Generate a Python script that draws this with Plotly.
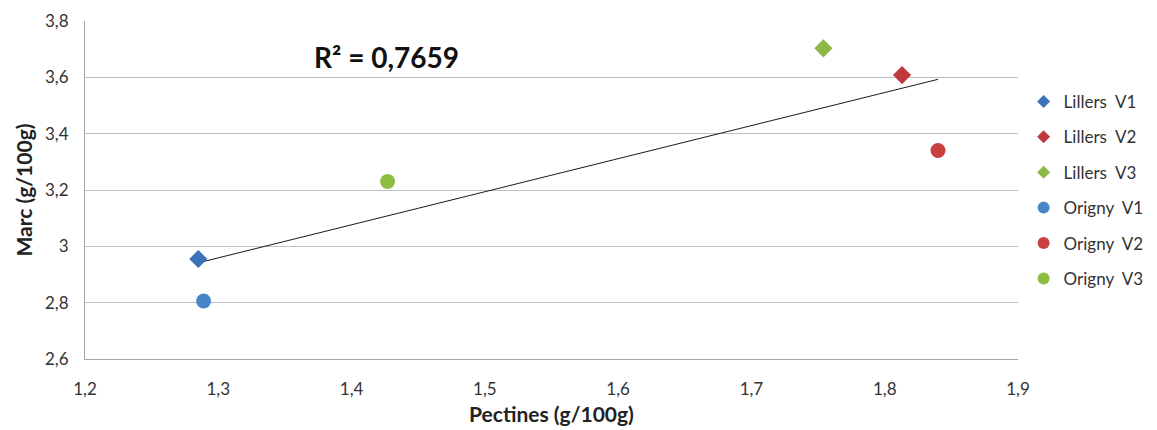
import numpy as np
import plotly.graph_objects as go

# Data
series_names = ["Lillers\u00a0\u00a0V1", "Lillers\u00a0\u00a0V2", "Lillers\u00a0\u00a0V3",
                "Origny\u00a0\u00a0V1", "Origny\u00a0\u00a0V2", "Origny\u00a0\u00a0V3"]
pectines = [1.285, 1.813, 1.754, 1.289, 1.840, 1.427]
marc = [2.955, 3.608, 3.703, 2.806, 3.340, 3.230]
symbols = ["diamond", "diamond", "diamond", "circle", "circle", "circle"]
colors = ["#3D72B8", "#C0393B", "#8DB846", "#4A84C8", "#C84040", "#8DBE3F"]
r2_label = "R² = 0,7659"

x_ticks = [1.2, 1.3, 1.4, 1.5, 1.6, 1.7, 1.8, 1.9]
y_ticks = [2.6, 2.8, 3.0, 3.2, 3.4, 3.6, 3.8]

FONT = "Lato, 'Open Sans', sans-serif"

fig = go.Figure()

# linear trendline (least squares over all points)
xa = np.array(pectines)
ya = np.array(marc)
slope, intercept = np.polyfit(xa, ya, 1)
xl = np.array([xa.min(), xa.max()])
fig.add_trace(go.Scatter(x=xl, y=slope * xl + intercept, mode="lines",
                         line=dict(color="#1a1a1a", width=1), showlegend=False,
                         hoverinfo="skip"))

for i, name in enumerate(series_names):
    is_dia = symbols[i] == "diamond"
    size = 14 if is_dia else 15
    fig.add_trace(go.Scatter(
        x=[pectines[i]], y=[marc[i]], mode="markers", name=name,
        legendgroup=f"g{i}", showlegend=False,
        marker=dict(symbol=symbols[i], color=colors[i], size=size,
                    line=dict(width=0)),
    ))
    # legend entry with the smaller legend marker
    fig.add_trace(go.Scatter(
        x=[None], y=[None], mode="markers", name=name,
        legendgroup=f"g{i}", showlegend=True,
        marker=dict(symbol=symbols[i], color=colors[i], size=10 if is_dia else 12,
                    line=dict(width=0)),
    ))

fig.add_annotation(x=1.426, y=3.672, xref="x", yref="y", text=f"<b>{r2_label}</b>",
                   showarrow=False, font=dict(size=28, color="#111111", family=FONT))

# page body adds an 8px offset, so the figure is 8px smaller and margins shifted
fig.update_layout(
    width=1149, height=422,
    margin=dict(l=77, r=139, t=13, b=71, autoexpand=False),
    paper_bgcolor="white", plot_bgcolor="white",
    separators=", ",
    font=dict(family=FONT, size=17, color="#333333"),
    legend=dict(x=1.006, y=0.814, xanchor="left", yanchor="top",
                xref="paper", yref="paper",
                font=dict(size=17, color="#333333", family=FONT),
                tracegroupgap=10.3, itemwidth=30,
                bgcolor="rgba(0,0,0,0)"),
    xaxis=dict(range=[1.2, 1.9], tickvals=x_ticks, tickformat=".1f",
               showgrid=False, zeroline=False,
               showline=True, linecolor="#A6A6A6", linewidth=1,
               ticks="outside", ticklen=15, tickcolor="rgba(0,0,0,0)",
               tickfont=dict(size=17, color="#333333"),
               title=dict(text="<b>Pectines (g/100g)</b>", standoff=8,
                          font=dict(size=21, color="#222222"))),
    yaxis=dict(range=[2.6, 3.8], tickvals=y_ticks, tickformat=".1~f",
               showgrid=True, gridcolor="#BFBFBF", gridwidth=1, zeroline=False,
               showline=True, linecolor="#A6A6A6", linewidth=1,
               ticks="outside", ticklen=12, tickcolor="rgba(0,0,0,0)",
               tickfont=dict(size=17, color="#333333"),
               title=dict(text="<b>Marc (g/100g)</b>", standoff=6,
                          font=dict(size=21, color="#222222"))),
)

fig.write_html("out.html")
